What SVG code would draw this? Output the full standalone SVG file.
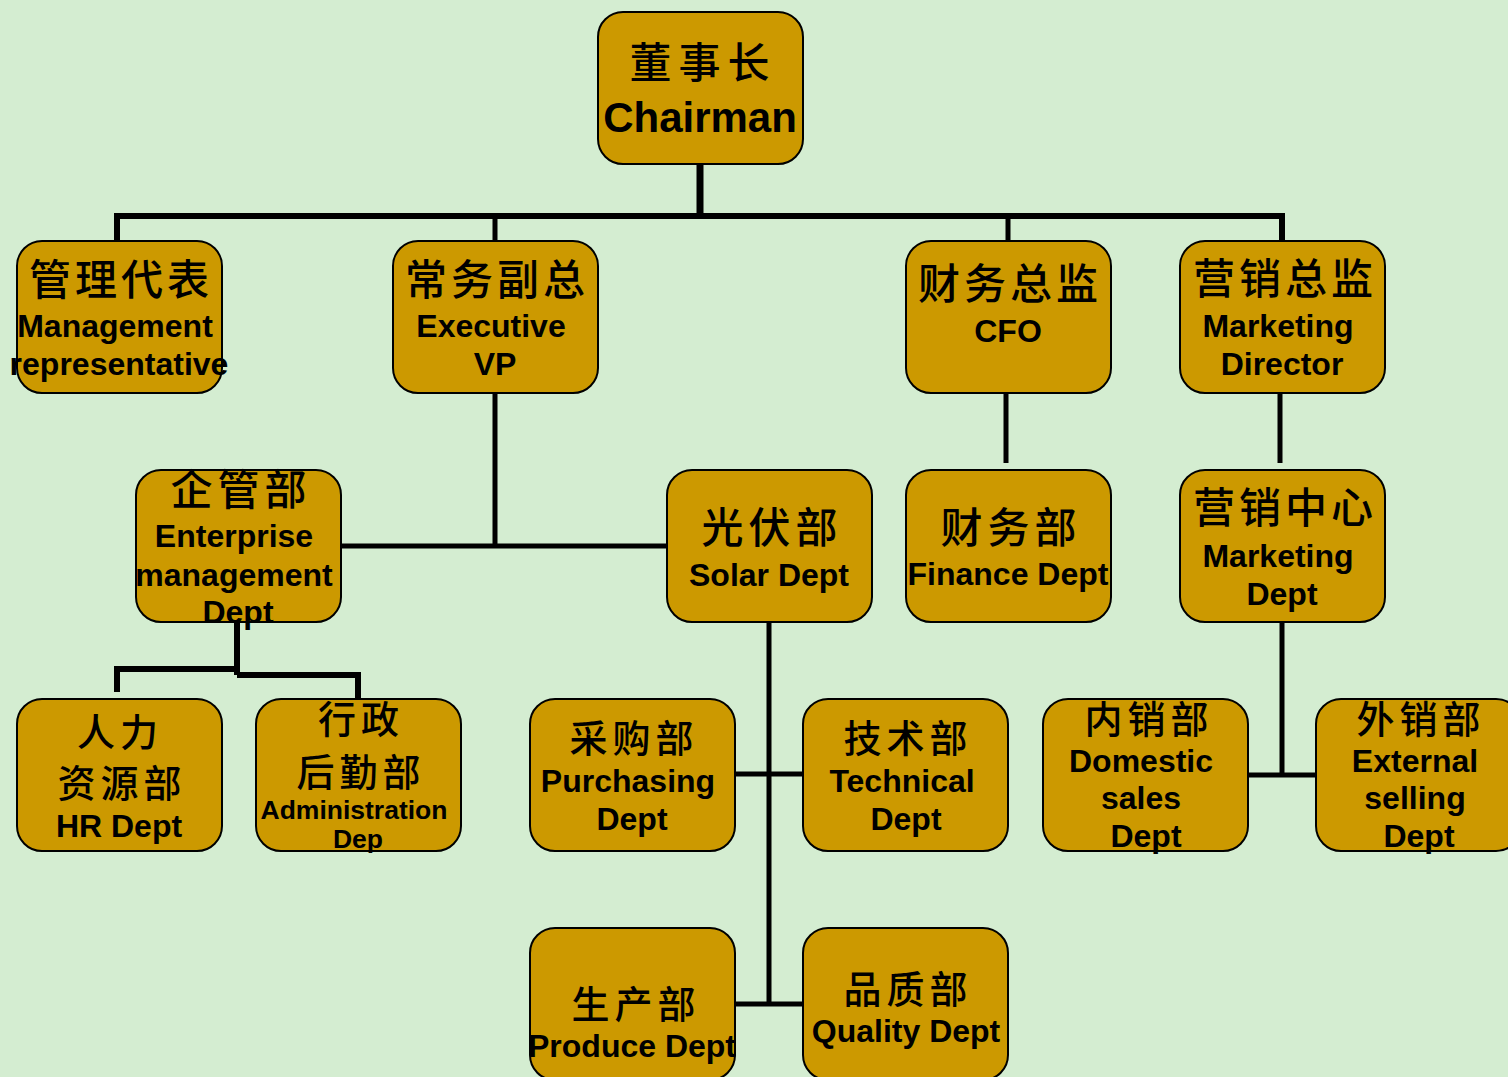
<svg xmlns="http://www.w3.org/2000/svg" width="1508" height="1077" viewBox="0 0 1508 1077">
<style>
.bg{fill:#D4EDD1}
.box{fill:#CC9900;stroke:#000;stroke-width:2}
.ln{fill:none;stroke:#000;stroke-width:5;stroke-linecap:butt}
.cn{font-family:"Noto Sans CJK SC","Noto Sans CJK TC",sans-serif;font-weight:500;fill:#000;text-anchor:middle}
.en{font-family:"Liberation Sans",Arial,sans-serif;font-weight:bold;fill:#000;text-anchor:middle;font-size:32px}
.c42{font-size:42px;letter-spacing:5px}
.c38{font-size:38px;letter-spacing:5px}
</style>
<rect class="bg" x="0" y="0" width="1508" height="1077"/>
<g id="connectors">
<path class="ln" d="M700 164V216" style="stroke-width:7"/>
<path class="ln" d="M117 241V216H1282V241" style="stroke-width:6"/>
<path class="ln" d="M495 216V241M1008 216V241"/>
<path class="ln" d="M495 393V546M341 546H667"/>
<path class="ln" d="M1006 393V463M1280 393V463"/>
<path class="ln" d="M237 622V675M117 692V669H237M237 675H358V699" style="stroke-width:6"/>
<path class="ln" d="M769 622V1004M735 774H803M735 1004H803"/>
<path class="ln" d="M1282 622V775M1248 775H1316"/>
</g>
<g id="chairman">
<rect class="box" x="598" y="12" width="205" height="152" rx="25"/>
<text class="cn" x="703" y="78" style="font-size:42px;letter-spacing:7px">董事长</text>
<text class="en" x="700" y="132" style="font-size:42px">Chairman</text>
</g>
<g id="mgmt-rep">
<rect class="box" x="17" y="241" width="205" height="152" rx="25"/>
<text class="cn c42" x="121" y="295" style="letter-spacing:4px">管理代表</text>
<text class="en" x="115" y="337">Management</text>
<text class="en" x="119" y="375">representative</text>
</g>
<g id="exec-vp">
<rect class="box" x="393" y="241" width="205" height="152" rx="25"/>
<text class="cn c42" x="497" y="295" style="letter-spacing:4px">常务副总</text>
<text class="en" x="491" y="337">Executive</text>
<text class="en" x="495" y="375">VP</text>
</g>
<g id="cfo">
<rect class="box" x="906" y="241" width="205" height="152" rx="25"/>
<text class="cn c42" x="1010" y="299" style="letter-spacing:4px">财务总监</text>
<text class="en" x="1008" y="342">CFO</text>
</g>
<g id="mkt-director">
<rect class="box" x="1180" y="241" width="205" height="152" rx="25"/>
<text class="cn c42" x="1285" y="294" style="letter-spacing:4px">营销总监</text>
<text class="en" x="1278" y="337">Marketing</text>
<text class="en" x="1282" y="375">Director</text>
</g>
<g id="enterprise">
<rect class="box" x="136" y="470" width="205" height="152" rx="25"/>
<text class="cn c42" x="241" y="505">企管部</text>
<text class="en" x="234" y="547">Enterprise</text>
<text class="en" x="234" y="586">management</text>
<text class="en" x="238" y="623">Dept</text>
</g>
<g id="solar">
<rect class="box" x="667" y="470" width="205" height="152" rx="25"/>
<text class="cn c42" x="772" y="543">光伏部</text>
<text class="en" x="769" y="586">Solar Dept</text>
</g>
<g id="finance">
<rect class="box" x="906" y="470" width="205" height="152" rx="25"/>
<text class="cn c42" x="1011" y="543">财务部</text>
<text class="en" x="1008" y="585">Finance Dept</text>
</g>
<g id="mkt-center">
<rect class="box" x="1180" y="470" width="205" height="152" rx="25"/>
<text class="cn c42" x="1285" y="523" style="letter-spacing:4px">营销中心</text>
<text class="en" x="1278" y="567">Marketing</text>
<text class="en" x="1282" y="605">Dept</text>
</g>
<g id="hr">
<rect class="box" x="17" y="699" width="205" height="152" rx="25"/>
<text class="cn c38" x="120" y="746">人力</text>
<text class="cn c38" x="122" y="797">资源部</text>
<text class="en" x="119" y="837">HR Dept</text>
</g>
<g id="admin">
<rect class="box" x="256" y="699" width="205" height="152" rx="25"/>
<text class="cn c38" x="361" y="733">行政</text>
<text class="cn c38" x="361" y="786">后勤部</text>
<text class="en" x="354" y="819" style="font-size:26.5px">Administration</text>
<text class="en" x="358" y="848" style="font-size:26.5px">Dep</text>
</g>
<g id="purchasing">
<rect class="box" x="530" y="699" width="205" height="152" rx="25"/>
<text class="cn c38" x="634" y="752">采购部</text>
<text class="en" x="628" y="792">Purchasing</text>
<text class="en" x="632" y="830">Dept</text>
</g>
<g id="technical">
<rect class="box" x="803" y="699" width="205" height="152" rx="25"/>
<text class="cn c38" x="908" y="752">技术部</text>
<text class="en" x="902" y="792">Technical</text>
<text class="en" x="906" y="830">Dept</text>
</g>
<g id="domestic">
<rect class="box" x="1043" y="699" width="205" height="152" rx="25"/>
<text class="cn c38" x="1149" y="733">内销部</text>
<text class="en" x="1141" y="772">Domestic</text>
<text class="en" x="1141" y="809">sales</text>
<text class="en" x="1146" y="847">Dept</text>
</g>
<g id="external">
<rect class="box" x="1316" y="699" width="205" height="152" rx="25"/>
<text class="cn c38" x="1421" y="733">外销部</text>
<text class="en" x="1415" y="772">External</text>
<text class="en" x="1415" y="809">selling</text>
<text class="en" x="1419" y="847">Dept</text>
</g>
<g id="produce">
<rect class="box" x="530" y="928" width="205" height="152" rx="25"/>
<text class="cn c38" x="636" y="1018">生产部</text>
<text class="en" x="632" y="1057">Produce Dept</text>
</g>
<g id="quality">
<rect class="box" x="803" y="928" width="205" height="152" rx="25"/>
<text class="cn c38" x="908" y="1003">品质部</text>
<text class="en" x="906" y="1042">Quality Dept</text>
</g>
</svg>
